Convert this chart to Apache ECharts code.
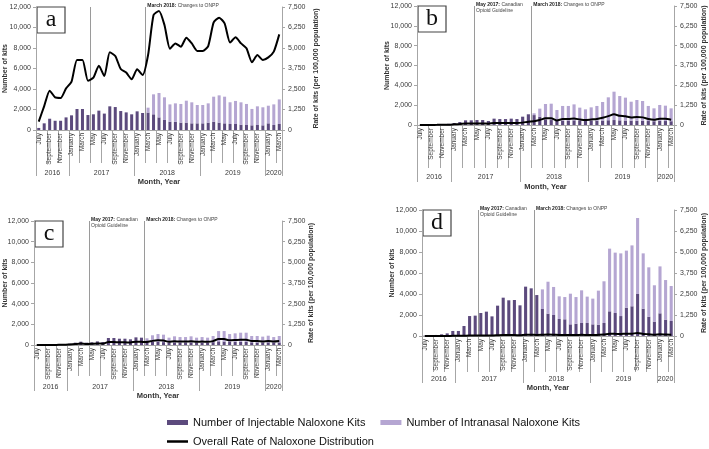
<!DOCTYPE html>
<html><head><meta charset="utf-8">
<script src="https://cdn.jsdelivr.net/npm/echarts@6/dist/echarts.min.js"></script>
<style>html,body{margin:0;padding:0;background:#fff}#c{width:709px;height:449px}</style>
</head><body><div id="c"></div>
<script>
// ---------- DATA ----------
const months = [
 'July 2016','August 2016','September 2016','October 2016','November 2016','December 2016',
 'January 2017','February 2017','March 2017','April 2017','May 2017','June 2017','July 2017','August 2017','September 2017','October 2017','November 2017','December 2017',
 'January 2018','February 2018','March 2018','April 2018','May 2018','June 2018','July 2018','August 2018','September 2018','October 2018','November 2018','December 2018',
 'January 2019','February 2019','March 2019','April 2019','May 2019','June 2019','July 2019','August 2019','September 2019','October 2019','November 2019','December 2019',
 'January 2020','February 2020','March 2020'];
const years = ['2016','2017','2018','2019','2020'];
const yearStartIdx = [0, 6, 18, 30, 42];
const leftTicks = [0, 12000, 2000];
const rightTicks = [0, 7500, 1250];
const eventIdx = [10, 20];
const eventText = ['{b|May 2017:} Canadian\nOpioid Guideline', '{b|March 2018:} Changes to ONPP'];
const panelLetters = ['a', 'b', 'c', 'd'];
const seriesNames = ['Number of Injectable Naloxone Kits', 'Number of Intranasal Naloxone Kits', 'Overall Rate of Naloxone Distribution'];

const aInj = [200,650,1100,900,900,1230,1430,2050,2050,1460,1530,1890,1600,2310,2240,1850,1720,1530,1820,1660,1700,1530,1230,980,810,810,720,720,650,650,650,720,810,720,650,585,585,520,490,455,490,455,650,490,585];
const aNas = [0,0,0,0,0,0,0,0,0,0,0,0,0,0,0,0,0,0,0,0,480,1950,2380,2210,1690,1790,1820,2140,2050,1790,1790,1880,2440,2660,2600,2120,2250,2180,2050,1600,1820,1760,1720,2010,2400];
const aRate = [510,1460,2400,1990,1950,2540,2950,4270,4270,3010,3190,3920,3290,4740,4510,3720,3500,3090,3700,3350,4570,7010,7260,6400,4960,5280,5080,5630,5280,4820,4820,5120,6560,6850,6500,5330,5650,5280,4980,4130,4570,4270,4430,4780,5830];

const bInj = [0,20,30,40,60,120,200,300,470,470,500,500,400,640,600,600,640,600,840,1080,1000,840,570,500,440,450,450,470,450,440,430,440,450,480,500,470,450,440,430,420,400,380,420,400,380];
const bNas = [0,0,0,0,0,0,0,0,0,0,0,0,0,0,0,0,0,0,0,0,180,810,1550,1650,1070,1470,1470,1610,1300,1140,1350,1480,1870,2310,2860,2450,2310,1910,2090,2000,1520,1300,1600,1550,1300];
const bRate = [0,4,6,8,12,20,40,60,90,95,100,100,85,125,120,120,130,125,150,210,240,320,420,430,290,380,380,410,350,310,350,380,460,560,670,580,550,470,500,480,380,330,400,390,330];

const cInj = [0,10,20,20,40,40,130,225,320,225,260,350,290,680,680,610,610,550,740,710,450,300,300,280,250,260,250,260,260,250,260,250,280,350,330,300,300,300,290,260,250,240,260,240,250];
const cNas = [0,0,0,0,0,0,0,0,0,0,0,0,0,0,0,0,0,0,0,0,200,640,760,720,460,580,520,510,580,460,510,460,590,1000,1020,760,830,890,900,610,620,570,640,530,620];
const cRate = [0,3,5,5,10,10,35,60,85,60,70,95,80,180,180,165,165,150,200,190,180,250,280,270,190,225,205,205,225,190,205,190,235,360,360,285,300,320,320,235,235,215,240,205,235];

const dInj = [30,30,100,160,250,480,480,950,1900,1940,2190,2320,1870,2890,3650,3400,3430,2920,4700,4540,3900,2570,2130,2000,1620,1590,1110,1170,1240,1240,1110,1080,1240,2350,2190,1900,2700,2830,4000,2600,1840,1370,2160,1560,1430];
const dNas = [0,0,0,0,0,0,0,0,0,0,0,0,0,0,0,0,0,0,0,0,0,1870,3040,2670,2160,2120,2920,2540,3110,2510,2450,3240,3970,5970,5750,5970,5430,5800,7240,5270,4700,3460,4470,3770,3330];
const dRate = [1,1,2,3,4,8,8,15,30,30,35,37,30,46,58,54,55,47,75,73,62,71,83,75,60,59,64,59,70,60,57,69,83,133,127,126,130,138,180,126,105,77,106,85,76];

const injData = [aInj, bInj, cInj, dInj];
const nasData = [aNas, bNas, cNas, dNas];
const rateData = [aRate, bRate, cRate, dRate];

// ---------- LAYOUT / STYLE ----------
const FONT = 'Liberation Sans';
const DARK = '#5c4a7d', LIGHT = '#b5a6d2', AXIS = '#a6a6a6', TXT = '#3a3a3a';
const grids = [
  {left: 36, top: 7, width: 246, height: 123},
  {left: 417, top: 6, width: 257, height: 119},
  {left: 34, top: 221, width: 248, height: 124},
  {left: 422, top: 210, width: 252, height: 126}
];
const cfg = [
  {monthTick: 33, yearTick: 46, yearMargin: 40, nameGap: 47, leftGap: 27, rightGap: 31, showEvent: [false, true]},
  {monthTick: 43, yearTick: 57, yearMargin: 49, nameGap: 58, leftGap: 26, rightGap: 27, showEvent: [true, true]},
  {monthTick: 31, yearTick: 46, yearMargin: 39, nameGap: 47, leftGap: 25, rightGap: 26, showEvent: [true, true]},
  {monthTick: 36, yearTick: 47, yearMargin: 40, nameGap: 48, leftGap: 26, rightGap: 27, showEvent: [true, true]}
];

const halfN = months.length * 2 + 1;
const halfData = Array.from({length: halfN}, (_, i) => 'h' + i);
const yearTickSet = new Set(yearStartIdx.map(s => s * 2).concat([months.length * 2]));
const yearLabelMap = {};
yearStartIdx.forEach((s, k) => {
  const e = k + 1 < yearStartIdx.length ? yearStartIdx[k + 1] : months.length;
  yearLabelMap[s + e] = years[k];
});

const fmt = v => v.toLocaleString('en-US');

const xAxis = [], yAxis = [], series = [];
grids.forEach((g, i) => {
  const c = cfg[i];
  xAxis.push({
    type: 'category', gridIndex: i, data: months, position: 'bottom',
    axisLine: {show: true, lineStyle: {color: AXIS, width: 1}},
    axisTick: {show: true, interval: 1, length: c.monthTick, lineStyle: {color: AXIS, width: 1}},
    axisLabel: {interval: 1, rotate: 90, fontSize: 6.5, fontFamily: FONT, color: TXT, margin: 3,
      formatter: v => v.split(' ')[0]},
    splitLine: {show: false}
  });
  xAxis.push({
    type: 'category', gridIndex: i, data: halfData, boundaryGap: false, position: 'bottom',
    axisLine: {show: false},
    axisTick: {show: true, length: c.yearTick, lineStyle: {color: AXIS, width: 1},
      interval: (idx) => yearTickSet.has(idx)},
    axisLabel: {show: true, fontSize: 7, fontFamily: FONT, color: TXT, margin: c.yearMargin,
      interval: (idx) => yearLabelMap[idx] !== undefined,
      formatter: (v, idx) => yearLabelMap[idx] || ''},
    name: 'Month, Year', nameLocation: 'middle', nameGap: c.nameGap,
    nameTextStyle: {fontSize: 7.5, fontWeight: 'bold', fontFamily: FONT, color: '#333'},
    splitLine: {show: false}
  });
  yAxis.push({
    type: 'value', gridIndex: i, position: 'left', min: leftTicks[0], max: leftTicks[1], interval: leftTicks[2],
    axisLine: {show: true, lineStyle: {color: AXIS}},
    axisTick: {show: true, length: 3, lineStyle: {color: AXIS}},
    axisLabel: {fontSize: 7, fontFamily: FONT, color: TXT, margin: 5, formatter: fmt},
    splitLine: {show: false},
    name: 'Number of kits', nameLocation: 'middle', nameGap: c.leftGap, nameMoveOverlap: false,
    nameTextStyle: {fontSize: 7, fontWeight: 'bold', fontFamily: FONT, color: '#333'}
  });
  yAxis.push({
    type: 'value', gridIndex: i, position: 'right', min: rightTicks[0], max: rightTicks[1], interval: rightTicks[2],
    axisLine: {show: true, lineStyle: {color: AXIS}},
    axisTick: {show: true, length: 3, lineStyle: {color: AXIS}},
    axisLabel: {fontSize: 7, fontFamily: FONT, color: TXT, margin: 6, formatter: fmt},
    splitLine: {show: false},
    name: 'Rate of kits (per 100,000 population)', nameLocation: 'middle', nameGap: c.rightGap, nameMoveOverlap: false,
    nameTextStyle: {fontSize: 7, fontWeight: 'bold', fontFamily: FONT, color: '#333'}
  });
  series.push({
    name: seriesNames[0], type: 'bar', xAxisIndex: 2 * i, yAxisIndex: 2 * i, stack: 'p' + i,
    data: injData[i], barWidth: '55%', itemStyle: {color: DARK}, animation: false
  });
  series.push({
    name: seriesNames[1], type: 'bar', xAxisIndex: 2 * i, yAxisIndex: 2 * i, stack: 'p' + i,
    data: nasData[i], barWidth: '55%', itemStyle: {color: LIGHT}, animation: false
  });
  series.push({
    name: seriesNames[2], type: 'line', xAxisIndex: 2 * i, yAxisIndex: 2 * i + 1,
    data: rateData[i], smooth: 0.2, symbol: 'none', showSymbol: false,
    lineStyle: {color: '#000', width: 2}, itemStyle: {color: '#000'}, z: 5, animation: false
  });
  series.push({
    name: 'events' + i, type: 'line', xAxisIndex: 2 * i + 1, yAxisIndex: 2 * i,
    data: halfData.map(() => null), symbol: 'none', silent: true, animation: false,
    markLine: {
      silent: true, symbol: ['none', 'none'], animation: false,
      label: {show: false},
      lineStyle: {color: '#9a9a9a', width: 1, type: 'solid'},
      data: eventIdx.map(m => ({xAxis: m * 2}))
    }
  });
});

const option = {
  backgroundColor: '#fff',
  animation: false,
  grid: grids.map(g => Object.assign({containLabel: false, outerBoundsMode: 'none'}, g)),
  xAxis, yAxis, series,
  legend: [
    {data: [seriesNames[0], seriesNames[1]], left: 167, top: 417, padding: 0, itemGap: 15,
     itemWidth: 21, itemHeight: 5, icon: 'rect', selectedMode: false,
     textStyle: {fontSize: 11, fontFamily: FONT, color: '#111'}},
    {data: [{name: seriesNames[2], icon: 'rect', itemStyle: {color: '#000'}}], left: 167, top: 436, padding: 0,
     itemWidth: 21, itemHeight: 2.5, selectedMode: false,
     textStyle: {fontSize: 11, fontFamily: FONT, color: '#111'}}
  ]
};

const chart = echarts.init(document.getElementById('c'), null, {renderer: 'canvas'});
chart.setOption(option);

// annotations and panel letters placed from axis conversions
const graphic = [];
grids.forEach((g, i) => {
  const topY = chart.convertToPixel({yAxisIndex: 2 * i}, leftTicks[1]);
  eventIdx.forEach((m, k) => {
    if (!cfg[i].showEvent[k]) return;
    const x = chart.convertToPixel({xAxisIndex: 2 * i + 1}, m * 2);
    graphic.push({
      type: 'text', x: x + 2, y: topY - 5, z: 10, silent: true,
      style: {text: eventText[k], fontSize: 5, fontFamily: FONT, fill: '#444', lineHeight: 6.5,
        rich: {b: {fontSize: 5, fontWeight: 'bold', fontFamily: FONT, fill: '#222', lineHeight: 6.5}}}
    });
  });
  graphic.push({
    type: 'group', x: g.left + 1, y: topY, z: 20,
    children: [
      {type: 'rect', shape: {x: 0, y: 0, width: 28, height: 26},
       style: {fill: '#fff', stroke: '#444', lineWidth: 1.2}},
      {type: 'text', x: 14, y: 13,
       style: {text: panelLetters[i], fontSize: 24, fontFamily: 'Liberation Serif', fill: '#111',
         align: 'center', verticalAlign: 'middle'}}
    ]
  });
});
chart.setOption({graphic});
</script>
</body></html>
